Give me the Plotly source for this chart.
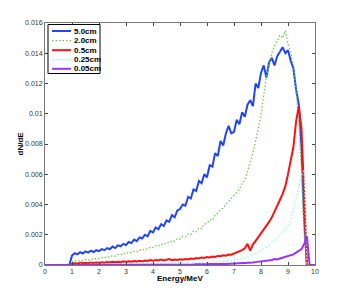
import numpy as np
import plotly.graph_objects as go

# energy grid (MeV): bins from 1.0 to 9.7 in 0.1 steps, padded with zeros outside
energy_core = np.round(np.arange(1.0, 9.75, 0.1), 2).tolist()
energy = [0.0, 0.9] + energy_core + [9.8, 9.9, 10.0]

d50 = [0.00062, 0.00078, 0.00070, 0.00085, 0.00076, 0.00090, 0.00082, 0.00095, 0.00086, 0.00098,
       0.00092, 0.00105, 0.00098, 0.00112, 0.00104, 0.00122, 0.00112, 0.00130, 0.00124, 0.00140,
       0.00132, 0.00152, 0.00145, 0.00168, 0.00158, 0.00182, 0.00175, 0.00200, 0.00190, 0.00225,
       0.00215, 0.00248, 0.00236, 0.00270, 0.00258, 0.00295, 0.00285, 0.00330, 0.00315, 0.00360,
       0.00370, 0.00400, 0.00392, 0.00450, 0.00440, 0.00500, 0.00490, 0.00555, 0.00540, 0.00600,
       0.00580, 0.00660, 0.00650, 0.00740, 0.00720, 0.00820, 0.00790, 0.00870, 0.00920, 0.00870,
       0.00880, 0.00960, 0.00930, 0.01010, 0.00980, 0.01060, 0.01090, 0.01050, 0.01200, 0.01170,
       0.01270, 0.01320, 0.01240, 0.01340, 0.01370, 0.01320, 0.01380, 0.01410, 0.01440, 0.01400,
       0.01420, 0.01350, 0.01300, 0.01160, 0.01060, 0.00780, 0.00300, 0.0]

d20 = [0.00020, 0.00028, 0.00024, 0.00032, 0.00028, 0.00036, 0.00032, 0.00040, 0.00036, 0.00044,
       0.00042, 0.00050, 0.00046, 0.00056, 0.00052, 0.00062, 0.00058, 0.00070, 0.00066, 0.00078,
       0.00074, 0.00085, 0.00082, 0.00092, 0.00088, 0.00100, 0.00096, 0.00108, 0.00105, 0.00118,
       0.00115, 0.00128, 0.00124, 0.00138, 0.00134, 0.00150, 0.00146, 0.00162, 0.00158, 0.00175,
       0.00172, 0.00190, 0.00186, 0.00205, 0.00200, 0.00225, 0.00220, 0.00245, 0.00240, 0.00270,
       0.00275, 0.00300, 0.00295, 0.00330, 0.00345, 0.00360, 0.00380, 0.00400, 0.00420, 0.00440,
       0.00460, 0.00480, 0.00500, 0.00540, 0.00560, 0.00620, 0.00680, 0.00740, 0.00820, 0.00900,
       0.00990, 0.01120, 0.01250, 0.01320, 0.01400, 0.01450, 0.01480, 0.01520, 0.01500, 0.01550,
       0.01460, 0.01400, 0.01320, 0.01150, 0.00950, 0.00600, 0.00200, 0.0]

d05 = [0.00008, 0.00012, 0.00010, 0.00014, 0.00011, 0.00015, 0.00012, 0.00016, 0.00013, 0.00017,
       0.00014, 0.00018, 0.00015, 0.00020, 0.00016, 0.00021, 0.00018, 0.00022, 0.00019, 0.00024,
       0.00020, 0.00025, 0.00022, 0.00026, 0.00023, 0.00028, 0.00024, 0.00030, 0.00026, 0.00032,
       0.00028, 0.00033, 0.00030, 0.00036, 0.00030, 0.00034, 0.00040, 0.00032, 0.00036, 0.00033,
       0.00038, 0.00035, 0.00040, 0.00037, 0.00043, 0.00040, 0.00046, 0.00043, 0.00050, 0.00047,
       0.00052, 0.00050, 0.00056, 0.00053, 0.00060, 0.00058, 0.00064, 0.00062, 0.00070, 0.00068,
       0.00075, 0.00080, 0.00090, 0.00098, 0.00110, 0.00140, 0.00095, 0.00135, 0.00160, 0.00185,
       0.00210, 0.00230, 0.00255, 0.00285, 0.00315, 0.00350, 0.00385, 0.00430, 0.00470, 0.00520,
       0.00600, 0.00700, 0.00780, 0.00950, 0.01050, 0.00900, 0.00450, 0.0]

d025 = [0.00003, 0.00004, 0.00003, 0.00005, 0.00004, 0.00005, 0.00004, 0.00006, 0.00005, 0.00006,
        0.00005, 0.00006, 0.00005, 0.00007, 0.00006, 0.00007, 0.00006, 0.00008, 0.00007, 0.00008,
        0.00007, 0.00008, 0.00008, 0.00009, 0.00008, 0.00009, 0.00008, 0.00010, 0.00009, 0.00010,
        0.00009, 0.00011, 0.00010, 0.00011, 0.00010, 0.00012, 0.00011, 0.00012, 0.00011, 0.00013,
        0.00012, 0.00014, 0.00013, 0.00015, 0.00014, 0.00016, 0.00015, 0.00017, 0.00016, 0.00019,
        0.00018, 0.00020, 0.00019, 0.00022, 0.00021, 0.00024, 0.00023, 0.00026, 0.00025, 0.00028,
        0.00030, 0.00033, 0.00036, 0.00040, 0.00044, 0.00050, 0.00056, 0.00064, 0.00074, 0.00085,
        0.00095, 0.00105, 0.00115, 0.00128, 0.00145, 0.00160, 0.00175, 0.00195, 0.00215, 0.00240,
        0.00260, 0.00300, 0.00370, 0.00440, 0.00520, 0.00590, 0.00630, 0.0]

d005 = [0.0, 0.0, 0.0, 0.0, 0.0, 0.0, 0.0, 0.0, 0.0, 0.0,
        0.0, 0.0, 0.0, 0.0, 0.0, 0.0, 0.0, 0.0, 0.0, 0.0,
        0.0, 0.0, 0.0, 0.00001, 0.0, 0.00001, 0.0, 0.00001, 0.00001, 0.00001,
        0.00001, 0.00001, 0.00002, 0.00001, 0.00002, 0.00002, 0.00002, 0.00003, 0.00002, 0.00003,
        0.00003, 0.00003, 0.00004, 0.00003, 0.00004, 0.00004, 0.00005, 0.00004, 0.00005, 0.00005,
        0.00005, 0.00006, 0.00005, 0.00006, 0.00006, 0.00007, 0.00006, 0.00007, 0.00008, 0.00007,
        0.00008, 0.00009, 0.00010, 0.00009, 0.00011, 0.00012, 0.00014, 0.00016, 0.00019, 0.00021,
        0.00024, 0.00026, 0.00030, 0.00028, 0.00033, 0.00040, 0.00037, 0.00043, 0.00048, 0.00052,
        0.00057, 0.00062, 0.00070, 0.00082, 0.00092, 0.00105, 0.00140, 0.00190]

labels = ["5.0cm", "2.0cm", "0.5cm", "0.25cm", "0.05cm"]
x_ticks = [0, 1, 2, 3, 4, 5, 6, 7, 8, 9, 10]
y_ticks = [0, 0.002, 0.004, 0.006, 0.008, 0.01, 0.012, 0.014, 0.016]
y_tick_text = ["0", "0.002", "0.004", "0.006", "0.008", "0.01", "0.012", "0.014", "0.016"]
x_title = "Energy/MeV"
y_title = "dN/dE"

def pad(vals):
    return [0.0, 0.0] + vals + [0.0] * (len(energy) - 2 - len(vals))

series = [
    (labels[0], d50, "#2145f5", "solid", 2),
    (labels[1], d20, "#6ccc4a", "1.5px,2px", 1.3),
    (labels[2], d05, "#ff1111", "solid", 2),
    (labels[3], d025, "#90ffdc", "1.5px,2px", 1.3),
    (labels[4], d005, "#9b30ff", "solid", 2),
]

# page body has an 8px margin; size the figure so it fits the 348x299 window
OFF = 8
W, H = 332, 283
ML, MR, MT, MB = 37, 25, 15, 26
PW, PH = W - ML - MR, H - MT - MB

fig = go.Figure()
for name, vals, col, dash, w in series:
    fig.add_trace(go.Scatter(x=energy, y=pad(vals), mode="lines", name=name,
                             line=dict(color=col, width=w, dash=dash),
                             showlegend=False))

def px_x(p):
    return (p - OFF - ML) / PW

def px_y(p):
    return 1 - (p - OFF - MT) / PH

# compact MATLAB-style legend box (positions in window pixels)
shapes = [dict(type="rect", xref="paper", yref="paper",
               x0=px_x(48), x1=px_x(100), y0=px_y(73.5), y1=px_y(24.5),
               line=dict(color="black", width=1), fillcolor="white", layer="above")]
annotations = []
row_y = [31, 40.7, 50.2, 59.6, 68.8]
for (name, vals, col, dash, w), ry in zip(series, row_y):
    shapes.append(dict(type="line", xref="paper", yref="paper",
                       x0=px_x(52), x1=px_x(71), y0=px_y(ry), y1=px_y(ry),
                       line=dict(color=col, width=w, dash=dash), layer="above"))
    annotations.append(dict(xref="paper", yref="paper", x=px_x(71.5), y=px_y(ry),
                            xanchor="left", yanchor="middle", showarrow=False,
                            text="<b>%s</b>" % name,
                            font=dict(size=8, color="black")))

# axis titles
annotations.append(dict(xref="paper", yref="paper", x=px_x(180), y=px_y(278.5),
                        xanchor="center", yanchor="middle", showarrow=False,
                        text="<b>%s</b>" % x_title, font=dict(size=8, color="black")))
annotations.append(dict(xref="paper", yref="paper", x=px_x(19.5), y=px_y(144),
                        xanchor="center", yanchor="middle", showarrow=False,
                        textangle=-90,
                        text="<b>%s</b>" % y_title, font=dict(size=8, color="black")))

font_family = "Liberation Sans, Arial, sans-serif"
fig.update_layout(
    width=W, height=H,
    margin=dict(l=ML, r=MR, t=MT, b=MB),
    paper_bgcolor="white", plot_bgcolor="white",
    font=dict(family=font_family, size=7, color="#333"),
    shapes=shapes, annotations=annotations,
    xaxis=dict(range=[0, 10], tickvals=x_ticks, ticks="inside", ticklen=3,
               showline=True, linecolor="#777", linewidth=1, mirror="ticks",
               showgrid=False, zeroline=False, automargin=False),
    yaxis=dict(range=[0, 0.016], tickvals=y_ticks, ticktext=y_tick_text,
               ticks="inside", ticklen=3,
               showline=True, linecolor="#777", linewidth=1, mirror="ticks",
               showgrid=False, zeroline=False, automargin=False),
)

fig.write_html("out.html")
